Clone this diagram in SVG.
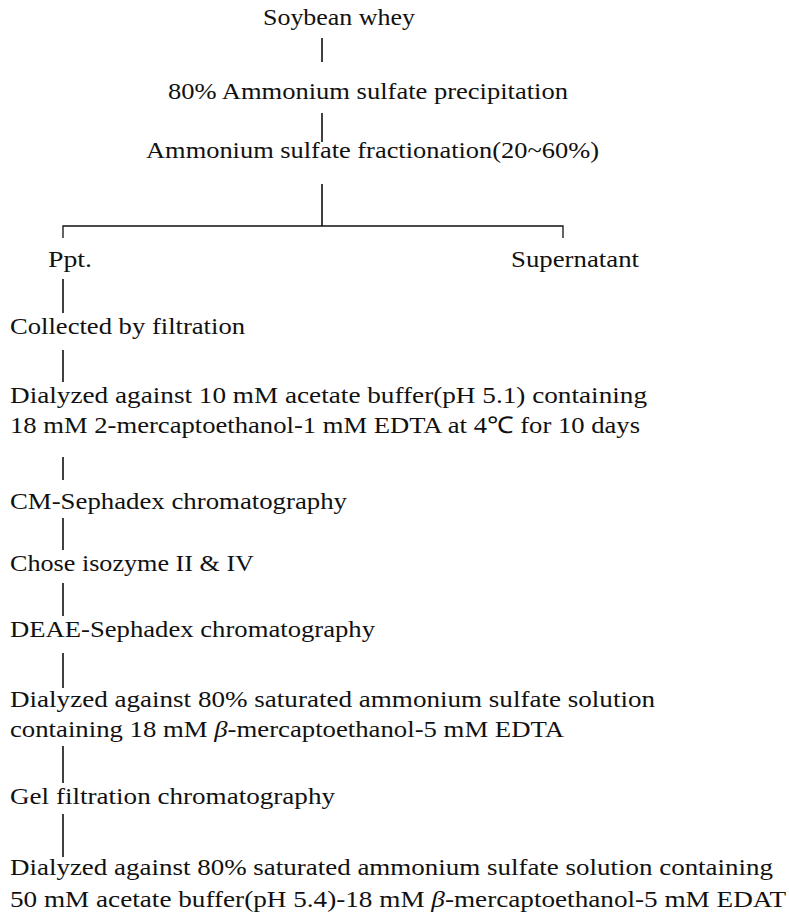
<svg xmlns="http://www.w3.org/2000/svg" width="789" height="914" viewBox="0 0 789 914">
<style>
text{font-family:"Liberation Serif","Times New Roman",serif;font-size:23px;fill:#111;}
.c line,.c path{stroke:#111;stroke-width:1.6;fill:none;}
.c path{stroke-width:1.3;}
</style>
<rect width="789" height="914" fill="#fff"/>
<g id="n-soybean"><text x="263" y="25" textLength="152" lengthAdjust="spacingAndGlyphs">Soybean whey</text></g>
<g id="n-precip"><text x="168" y="99" textLength="400" lengthAdjust="spacingAndGlyphs">80% Ammonium sulfate precipitation</text></g>
<g id="n-fraction"><text x="146" y="158" textLength="453" lengthAdjust="spacingAndGlyphs">Ammonium sulfate fractionation(20~60%)</text></g>
<g id="n-ppt"><text x="48" y="267" textLength="44" lengthAdjust="spacingAndGlyphs">Ppt.</text></g>
<g id="n-super"><text x="511" y="267" textLength="128" lengthAdjust="spacingAndGlyphs">Supernatant</text></g>
<g id="n-collect"><text x="10" y="334" textLength="235" lengthAdjust="spacingAndGlyphs">Collected by filtration</text></g>
<g id="n-dial1"><text x="10" y="403" textLength="637" lengthAdjust="spacingAndGlyphs">Dialyzed against 10 mM acetate buffer(pH 5.1) containing</text><text x="10" y="433" textLength="630" lengthAdjust="spacingAndGlyphs">18 mM 2-mercaptoethanol-1 mM EDTA at 4℃ for 10 days</text></g>
<g id="n-cm"><text x="10" y="509" textLength="337" lengthAdjust="spacingAndGlyphs">CM-Sephadex chromatography</text></g>
<g id="n-chose"><text x="10" y="571" textLength="244" lengthAdjust="spacingAndGlyphs">Chose isozyme II &amp; IV</text></g>
<g id="n-deae"><text x="10" y="637" textLength="365" lengthAdjust="spacingAndGlyphs">DEAE-Sephadex chromatography</text></g>
<g id="n-dial2"><text x="10" y="707" textLength="645" lengthAdjust="spacingAndGlyphs">Dialyzed against 80% saturated ammonium sulfate solution</text><text x="10" y="737" textLength="554" lengthAdjust="spacingAndGlyphs">containing 18 mM <tspan font-style="italic">β</tspan>-mercaptoethanol-5 mM EDTA</text></g>
<g id="n-gel"><text x="10" y="804" textLength="325" lengthAdjust="spacingAndGlyphs">Gel filtration chromatography</text></g>
<g id="n-dial3"><text x="10" y="875" textLength="763" lengthAdjust="spacingAndGlyphs">Dialyzed against 80% saturated ammonium sulfate solution containing</text><text x="10" y="907" textLength="776" lengthAdjust="spacingAndGlyphs">50 mM acetate buffer(pH 5.4)-18 mM <tspan font-style="italic">β</tspan>-mercaptoethanol-5 mM EDAT</text></g>
<g id="connectors" class="c">
<line x1="322" y1="38" x2="322" y2="62"/>
<line x1="322" y1="113" x2="322" y2="142"/>
<line x1="322" y1="184" x2="322" y2="226"/>
<path d="M63 238 V226 H563 V238"/>
<line x1="63" y1="279" x2="63" y2="313"/>
<line x1="63" y1="350" x2="63" y2="382"/>
<line x1="63" y1="457" x2="63" y2="480"/>
<line x1="63" y1="518" x2="63" y2="550"/>
<line x1="63" y1="583" x2="63" y2="616"/>
<line x1="63" y1="653" x2="63" y2="688"/>
<line x1="63" y1="746" x2="63" y2="783"/>
<line x1="63" y1="814" x2="63" y2="857"/>
</g>
</svg>
